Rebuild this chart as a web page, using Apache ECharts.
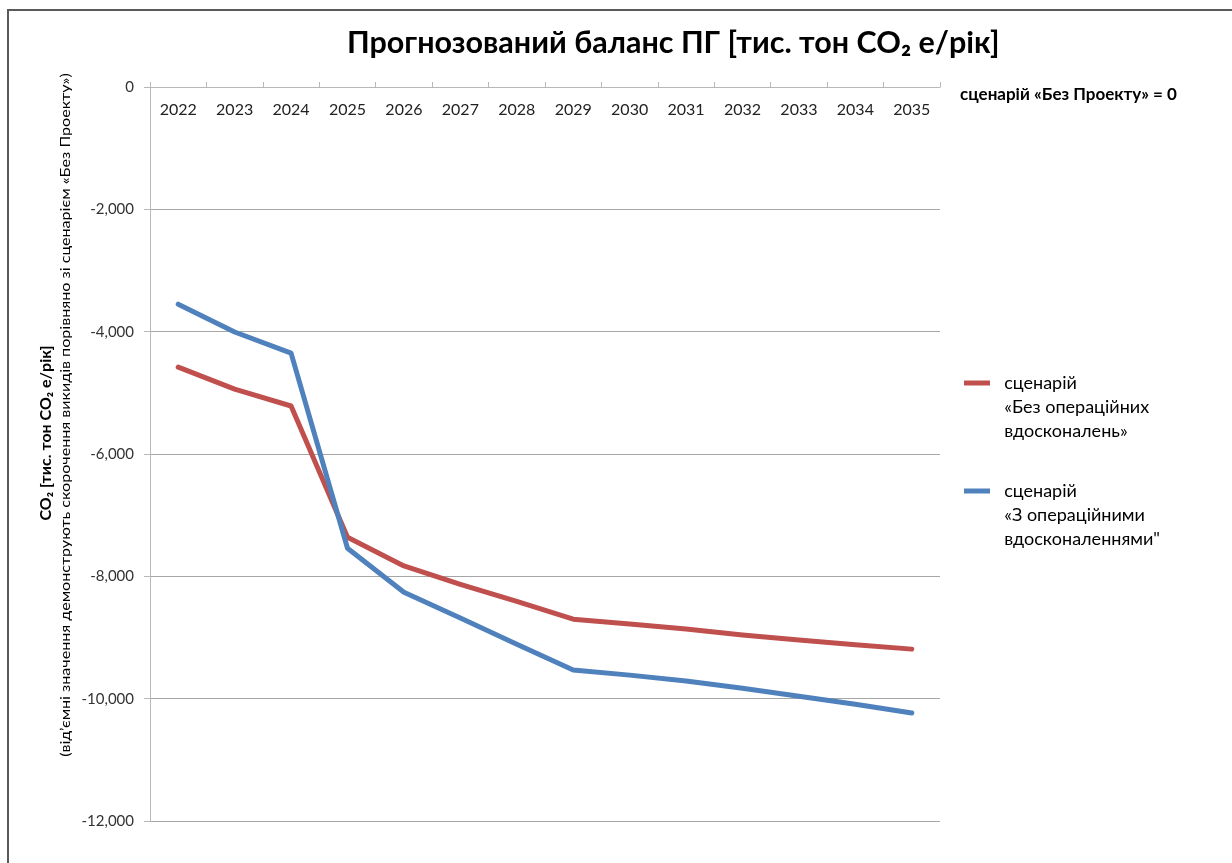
<!DOCTYPE html>
<html style="height: 100%" lang="uk">
<head>
  <meta charset="utf-8">
  <title>Прогнозований баланс ПГ</title>
  <script src="https://cdn.jsdelivr.net/npm/echarts@6/dist/echarts.min.js"></script>
</head>
<body style="height: 100%; margin: 0; background: #fff">
<div id="container" style="width: 1232px; height: 863px"></div>
<script type="text/javascript">
  // роки прогнозу
  var years = ['2022', '2023', '2024', '2025', '2026', '2027', '2028',
               '2029', '2030', '2031', '2032', '2033', '2034', '2035'];
  // сценарій «Без операційних вдосконалень»
  var noImprovements = [-4580, -4940, -5215, -7360, -7830, -8130, -8410,
                        -8700, -8780, -8860, -8960, -9040, -9120, -9190];
  // сценарій «З операційними вдосконаленнями»
  var withImprovements = [-3550, -4005, -4350, -7540, -8260, -8680, -9110,
                          -9530, -9615, -9710, -9830, -9960, -10090, -10235];
  var seriesNames = [
    'сценарій\n«Без операційних\nвдосконалень»',
    'сценарій\n«З операційними\nвдосконаленнями"'
  ];

  var font = 'Lato, "Open Sans", sans-serif';
  var chart = echarts.init(document.getElementById('container'));

  var option = {
    backgroundColor: '#fff',
    textStyle: { fontFamily: font },
    animation: false,
    title: [
      {
        text: 'Прогнозований баланс ПГ [тис. тон CO₂ e/рік]',
        left: 347,
        top: 28,
        padding: 0,
        textStyle: { fontFamily: font, fontSize: 30.5, fontWeight: 'bold', color: '#000' }
      },
      {
        text: 'сценарій «Без Проекту» = 0',
        left: 960,
        top: 86,
        padding: 0,
        textStyle: { fontFamily: font, fontSize: 17, fontWeight: 'bold', color: '#000' }
      }
    ],
    legend: {
      orient: 'vertical',
      left: 964,
      top: 323,
      padding: 0,
      itemGap: -12,
      itemWidth: 26,
      itemHeight: 5,
      icon: 'rect',
      data: seriesNames,
      // дві порожні лінії зверху, щоб позначка стояла навпроти першого рядка
      formatter: function (name) {
        return '\n\n' + name.split('\n').map(function (l) { return '  ' + l; }).join('\n');
      },
      textStyle: {
        fontFamily: font,
        fontSize: 18,
        color: '#000',
        lineHeight: 24
      }
    },
    graphic: [
      {
        type: 'rect',
        shape: { x: 8, y: 10, width: 1240, height: 870 },
        style: { fill: 'none', stroke: '#595959', lineWidth: 2 },
        silent: true
      },
      {
        type: 'text',
        x: 46,
        y: 433,
        rotation: Math.PI / 2,
        style: {
          text: 'CO₂ [тис. тон CO₂ e/рік]',
          font: 'bold 16px ' + font,
          fill: '#000',
          align: 'center',
          verticalAlign: 'middle'
        }
      },
      {
        type: 'text',
        x: 65,
        y: 415,
        rotation: Math.PI / 2,
        scaleX: 1.15,
        style: {
          text: '(від\u2019ємні значення демонструють скорочення викидів порівняно зі сценарієм «Без Проекту»)',
          font: '14px ' + font,
          fill: '#000',
          align: 'center',
          verticalAlign: 'middle'
        }
      }
    ],
    grid: { left: 150, top: 87, right: 292, bottom: 42 },
    xAxis: {
      type: 'category',
      position: 'top',
      data: years,
      boundaryGap: true,
      axisLine: { lineStyle: { color: '#b8b8b8', width: 1 } },
      axisTick: { show: true, length: 5, lineStyle: { color: '#b8b8b8' } },
      axisLabel: {
        inside: true,
        margin: 15,
        fontFamily: font,
        fontSize: 16,
        color: '#222'
      }
    },
    yAxis: {
      type: 'value',
      min: -12000,
      max: 0,
      interval: 2000,
      axisLine: { show: true, lineStyle: { color: '#b8b8b8', width: 1 } },
      axisTick: { show: true, length: 6, lineStyle: { color: '#b8b8b8' } },
      axisLabel: {
        margin: 16,
        fontFamily: font,
        fontSize: 15,
        color: '#333',
        formatter: function (v) {
          return v === 0 ? '0' : echarts.format.addCommas(v);
        }
      },
      splitLine: { lineStyle: { color: '#a6a6a6', width: 1 } }
    },
    series: [
      {
        name: seriesNames[0],
        type: 'line',
        data: noImprovements,
        symbol: 'none',
        color: '#C0504D',
        lineStyle: { width: 5, cap: 'round', join: 'round' }
      },
      {
        name: seriesNames[1],
        type: 'line',
        data: withImprovements,
        symbol: 'none',
        color: '#4F81BD',
        lineStyle: { width: 5, cap: 'round', join: 'round' }
      }
    ]
  };

  chart.setOption(option);
</script>
</body>
</html>
